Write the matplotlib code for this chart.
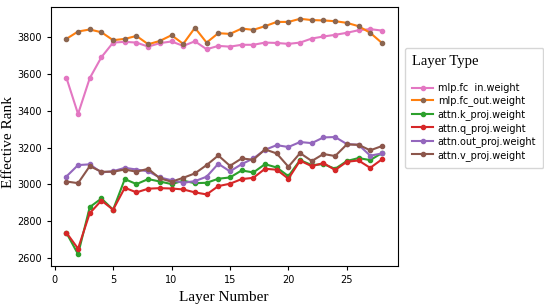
import matplotlib
matplotlib.use("Agg")
import matplotlib.pyplot as plt
import numpy as np

layers = np.arange(1, 29)

fc_in = [3579, 3382, 3576, 3690, 3769, 3773, 3769, 3747, 3766, 3775, 3751, 3776, 3733, 3751,
         3747, 3757, 3757, 3769, 3767, 3762, 3769, 3791, 3802, 3811, 3822, 3836, 3842, 3834]
fc_out = [3789, 3829, 3840, 3825, 3782, 3789, 3805, 3760, 3778, 3809, 3762, 3849, 3769, 3820,
          3816, 3845, 3838, 3858, 3881, 3881, 3898, 3891, 3889, 3885, 3876, 3858, 3822, 3767]
k_proj = [2738, 2622, 2877, 2924, 2863, 3029, 3002, 3029, 3016, 3002, 3020, 3007, 3009, 3031,
          3038, 3076, 3065, 3110, 3092, 3045, 3132, 3105, 3110, 3085, 3127, 3143, 3132, 3170]
q_proj = [2739, 2652, 2844, 2913, 2863, 2982, 2957, 2977, 2980, 2978, 2973, 2957, 2946, 2991,
          3004, 3029, 3036, 3085, 3080, 3031, 3129, 3099, 3116, 3078, 3123, 3130, 3090, 3136]
out_proj = [3043, 3105, 3109, 3065, 3072, 3090, 3081, 3071, 3038, 3023, 3009, 3018, 3042, 3112,
            3071, 3110, 3141, 3188, 3213, 3203, 3230, 3224, 3255, 3257, 3219, 3215, 3156, 3168]
v_proj = [3016, 3007, 3099, 3069, 3069, 3081, 3069, 3085, 3033, 3015, 3036, 3060, 3105, 3157,
          3101, 3141, 3134, 3190, 3168, 3096, 3170, 3127, 3165, 3154, 3217, 3215, 3185, 3208]

names = ["mlp.fc  in.weight", "mlp.fc_out.weight", "attn.k_proj.weight",
         "attn.q_proj.weight", "attn.out_proj.weight", "attn.v_proj.weight"]
series = [fc_in, fc_out, k_proj, q_proj, out_proj, v_proj]
colors = ["#e377c2", "#ff7f0e", "#2ca02c", "#d62728", "#9467bd", "#8c564b"]

fig = plt.figure(figsize=(5.44, 3.05), dpi=100)
ax = fig.add_axes([0.093, 0.128, 0.638, 0.849])

for name, vals, c in zip(names, series, colors):
    # orange line has darker dots in the original
    mfc = "#8b6650" if c == "#ff7f0e" else c
    ax.plot(layers, vals, color=c, lw=1.5, marker="o", ms=3,
            mfc=mfc, mec=mfc, label=name)

ax.set_xticks([0, 5, 10, 15, 20, 25])
ax.set_yticks([2600, 2800, 3000, 3200, 3400, 3600, 3800])
ax.tick_params(labelsize=7, length=3)
ax.set_xlabel("Layer Number", family="Liberation Serif", fontsize=11)
ax.set_ylabel("Effective Rank", family="Liberation Serif", fontsize=11)
ax.yaxis.set_label_coords(-0.103, 0.48)

leg = ax.legend(loc="upper left", bbox_to_anchor=(1.02, 0.842), fontsize=7.0,
                title="Layer Type", frameon=True, borderaxespad=0,
                labelspacing=0.27, borderpad=0.75, handlelength=2.2,
                handletextpad=0.45, alignment="left")
leg.get_title().set_family("Liberation Serif")
leg.get_title().set_fontsize(10.5)
leg._legend_box.sep = 10.6  # extra gap under the title

fig.savefig("out.png", dpi=100)
